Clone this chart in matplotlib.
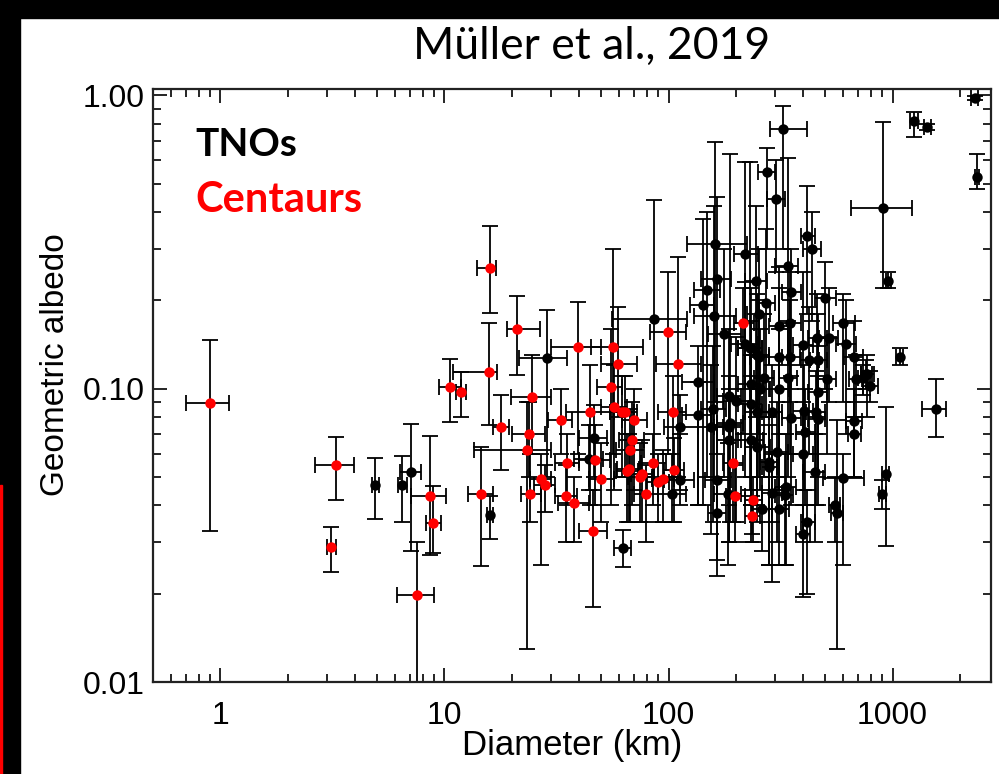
import numpy as np
import matplotlib.pyplot as plt
from matplotlib.patches import Rectangle
from matplotlib.ticker import LogLocator, NullFormatter

# diameter (km): value, lower, upper ; geometric albedo: value, lower, upper
tno = [
    (325, 283, 415, 0.77, 0.30, 0.92),
    (275, 250, 300, 0.547, 0.30, 0.66),
    (301, 275, 330, 0.444, 0.25, 0.60),
    (906, 655, 1220, 0.414, 0.22, 0.81),
    (957, 930, 985, 0.232, 0.22, 0.25),
    (1246, 1200, 1300, 0.815, 0.72, 0.88),
    (1429, 1380, 1480, 0.78, 0.76, 0.80),
    (2323, 2250, 2400, 0.975, 0.96, 0.99),
    (2371, 2330, 2420, 0.526, 0.48, 0.63),
    (417, 390, 450, 0.331, 0.18, 0.49),
    (436, 400, 480, 0.300, 0.17, 0.40),
    (161, 121, 225, 0.312, 0.09, 0.69),
    (220, 195, 250, 0.288, 0.10, 0.59),
    (340, 300, 380, 0.261, 0.12, 0.61),
    (164, 140, 190, 0.237, 0.06, 0.45),
    (245, 220, 275, 0.232, 0.08, 0.42),
    (148, 130, 170, 0.216, 0.05, 0.40),
    (352, 320, 390, 0.213, 0.10, 0.30),
    (500, 450, 560, 0.204, 0.10, 0.27),
    (142, 125, 160, 0.193, 0.04, 0.38),
    (272, 250, 300, 0.196, 0.08, 0.35),
    (254, 225, 285, 0.180, 0.07, 0.30),
    (86, 56, 121, 0.173, 0.05, 0.44),
    (160, 130, 200, 0.177, 0.05, 0.42),
    (177, 150, 210, 0.154, 0.05, 0.30),
    (312, 280, 350, 0.164, 0.07, 0.26),
    (350, 310, 390, 0.168, 0.09, 0.25),
    (601, 540, 680, 0.167, 0.09, 0.21),
    (400, 360, 440, 0.141, 0.07, 0.25),
    (461, 420, 510, 0.149, 0.08, 0.21),
    (519, 470, 570, 0.149, 0.09, 0.22),
    (618, 560, 690, 0.142, 0.07, 0.20),
    (1076, 1040, 1110, 0.128, 0.12, 0.137),
    (312, 280, 345, 0.128, 0.05, 0.22),
    (350, 320, 385, 0.128, 0.06, 0.20),
    (425, 390, 470, 0.125, 0.06, 0.19),
    (467, 430, 510, 0.125, 0.07, 0.18),
    (673, 610, 740, 0.128, 0.08, 0.17),
    (254, 230, 280, 0.128, 0.05, 0.20),
    (219, 190, 250, 0.142, 0.05, 0.23),
    (231, 205, 260, 0.138, 0.045, 0.59),
    (772, 720, 830, 0.112, 0.08, 0.13),
    (136, 115, 160, 0.105, 0.04, 0.14),
    (135, 115, 155, 0.081, 0.04, 0.105),
    (113, 95, 135, 0.0742, 0.045, 0.095),
    (113, 95, 130, 0.0488, 0.04, 0.07),
    (104, 90, 120, 0.0439, 0.035, 0.06),
    (62.4, 57, 68, 0.0287, 0.0246, 0.033),
    (46.3, 40, 53, 0.0679, 0.05, 0.088),
    (44.3, 38, 51, 0.0575, 0.045, 0.075),
    (158.6, 140, 180, 0.0852, 0.035, 0.14),
    (154, 135, 175, 0.0742, 0.032, 0.12),
    (189, 165, 215, 0.0762, 0.035, 0.63),
    (186, 160, 210, 0.0742, 0.03, 0.11),
    (186, 165, 210, 0.067, 0.03, 0.10),
    (233, 205, 265, 0.067, 0.03, 0.11),
    (249, 220, 285, 0.063, 0.035, 0.10),
    (304, 270, 340, 0.061, 0.03, 0.09),
    (282, 255, 310, 0.056, 0.025, 0.08),
    (282, 260, 305, 0.0542, 0.025, 0.075),
    (165, 145, 190, 0.049, 0.023, 0.075),
    (185, 160, 210, 0.0439, 0.025, 0.065),
    (164, 150, 180, 0.0378, 0.026, 0.05),
    (261, 235, 290, 0.0388, 0.028, 0.05),
    (312, 280, 345, 0.0388, 0.025, 0.05),
    (290, 260, 320, 0.044, 0.022, 0.06),
    (330, 300, 360, 0.0434, 0.025, 0.06),
    (333, 300, 370, 0.0462, 0.025, 0.07),
    (449, 400, 500, 0.052, 0.03, 0.07),
    (603, 490, 745, 0.0497, 0.025, 0.06),
    (417, 390, 450, 0.035, 0.02, 0.045),
    (400, 370, 430, 0.0319, 0.0195, 0.04),
    (551, 520, 580, 0.040, 0.03, 0.05),
    (563, 530, 600, 0.0378, 0.013, 0.078),
    (931, 900, 960, 0.0512, 0.029, 0.0868),
    (900, 870, 930, 0.0437, 0.039, 0.049),
    (1556, 1360, 1730, 0.0852, 0.0683, 0.108),
    (673, 620, 730, 0.0773, 0.05, 0.10),
    (673, 630, 720, 0.070, 0.05, 0.09),
    (796, 740, 860, 0.102, 0.09, 0.115),
    (763, 720, 810, 0.112, 0.10, 0.125),
    (735, 700, 780, 0.109, 0.095, 0.12),
    (684, 640, 730, 0.108, 0.08, 0.13),
    (510, 460, 560, 0.108, 0.06, 0.15),
    (463, 420, 510, 0.097, 0.05, 0.14),
    (402, 360, 440, 0.084, 0.045, 0.12),
    (456, 410, 500, 0.083, 0.04, 0.115),
    (463, 420, 500, 0.079, 0.04, 0.11),
    (407, 370, 450, 0.071, 0.04, 0.10),
    (397, 360, 440, 0.060, 0.03, 0.09),
    (352, 320, 390, 0.0794, 0.04, 0.11),
    (290, 260, 320, 0.083, 0.035, 0.12),
    (249, 220, 280, 0.083, 0.04, 0.13),
    (233, 205, 260, 0.0887, 0.04, 0.13),
    (200, 175, 230, 0.091, 0.035, 0.15),
    (186, 165, 210, 0.0946, 0.04, 0.16),
    (233, 205, 265, 0.104, 0.04, 0.17),
    (312, 280, 345, 0.0998, 0.045, 0.16),
    (340, 310, 375, 0.109, 0.05, 0.17),
    (256, 230, 285, 0.100, 0.045, 0.16),
    (267, 240, 295, 0.109, 0.05, 0.18),
    (249, 220, 280, 0.130, 0.05, 0.21),
    (233, 205, 260, 0.138, 0.05, 0.22),
    (28.6, 21.6, 35.4, 0.127, 0.05, 0.186),
    (4.91, 4.75, 5.1, 0.0469, 0.0359, 0.058),
    (6.46, 6.2, 6.8, 0.0469, 0.035, 0.059),
    (7.08, 6.35, 7.86, 0.052, 0.0279, 0.076),
    (16.0, 15.5, 16.5, 0.0371, 0.0308, 0.043),
]

centaurs = [
    (0.896, 0.705, 1.093, 0.089, 0.0327, 0.146),
    (3.27, 2.63, 3.93, 0.0549, 0.0418, 0.0682),
    (3.13, 2.99, 3.27, 0.0289, 0.0238, 0.0338),
    (7.53, 6.13, 8.97, 0.0198, 0.005, 0.0299),
    (8.66, 7.1, 10.2, 0.0429, 0.027, 0.069),
    (8.93, 8.3, 9.6, 0.0349, 0.0275, 0.0465),
    (10.6, 9.5, 11.9, 0.101, 0.077, 0.126),
    (11.9, 11.3, 12.5, 0.0971, 0.080, 0.114),
    (15.8, 10.9, 17.2, 0.114, 0.075, 0.167),
    (16.0, 14.0, 17.0, 0.257, 0.181, 0.357),
    (21.1, 19.0, 26.6, 0.160, 0.111, 0.207),
    (14.6, 12.7, 16.4, 0.0439, 0.0249, 0.063),
    (17.8, 16.5, 19.5, 0.0742, 0.0529, 0.0954),
    (24.5, 19.8, 29.9, 0.0934, 0.06, 0.13),
    (23.9, 20, 28, 0.070, 0.05, 0.09),
    (23.3, 13.5, 29.9, 0.0619, 0.013, 0.09),
    (24.1, 22, 27, 0.0439, 0.035, 0.06),
    (27.0, 24, 30, 0.0492, 0.025, 0.06),
    (28.1, 25, 31, 0.047, 0.038, 0.055),
    (33.1, 29, 37, 0.0782, 0.06, 0.10),
    (35.1, 31, 40, 0.0558, 0.04, 0.07),
    (34.9, 31, 39, 0.0429, 0.03, 0.055),
    (39.3, 30, 50, 0.139, 0.06, 0.198),
    (56.4, 45, 77, 0.139, 0.06, 0.30),
    (59.3, 50, 72, 0.1214, 0.08, 0.19),
    (110.5, 88, 140, 0.121, 0.05, 0.28),
    (99, 83, 120, 0.156, 0.06, 0.25),
    (55.3, 48, 62, 0.101, 0.04, 0.16),
    (44.6, 35, 55, 0.0835, 0.04, 0.12),
    (57.3, 50, 65, 0.0864, 0.045, 0.12),
    (62.3, 55, 70, 0.0835, 0.05, 0.11),
    (64, 57, 72, 0.0835, 0.05, 0.11),
    (70.3, 62, 80, 0.0782, 0.045, 0.10),
    (104.3, 90, 120, 0.083, 0.05, 0.11),
    (68.4, 60, 78, 0.067, 0.04, 0.09),
    (67.3, 58, 78, 0.0619, 0.035, 0.085),
    (47.1, 40, 55, 0.057, 0.04, 0.075),
    (50, 44, 57, 0.0492, 0.035, 0.065),
    (65.2, 58, 73, 0.0525, 0.035, 0.07),
    (66.4, 59, 74, 0.0532, 0.035, 0.07),
    (74.6, 66, 84, 0.050, 0.035, 0.065),
    (76.1, 68, 86, 0.051, 0.035, 0.067),
    (85.4, 75, 97, 0.0558, 0.04, 0.07),
    (90, 80, 100, 0.048, 0.035, 0.06),
    (94.4, 84, 106, 0.0492, 0.035, 0.062),
    (79.2, 70, 90, 0.0439, 0.03, 0.055),
    (105.4, 95, 117, 0.0529, 0.035, 0.068),
    (37.7, 32, 44, 0.0407, 0.03, 0.05),
    (46.2, 40, 53, 0.0328, 0.018, 0.045),
    (194, 175, 215, 0.0558, 0.035, 0.075),
    (198, 180, 220, 0.0429, 0.03, 0.055),
    (238.6, 220, 260, 0.0418, 0.03, 0.05),
    (237, 220, 255, 0.0369, 0.032, 0.043),
    (215, 195, 240, 0.168, 0.07, 0.22),
]

W, H = 999, 774
fig = plt.figure(figsize=(W / 100, H / 100), dpi=100)
fig.patch.set_facecolor('white')

# dark frame at top/left and thin red strip
fig.patches.append(Rectangle((0, 1 - 18 / H), 1, 18 / H, transform=fig.transFigure, color='black', zorder=0))
fig.patches.append(Rectangle((0, 0), 20 / W, 1, transform=fig.transFigure, color='black', zorder=0))
fig.patches.append(Rectangle((0, 0), 2 / W, (774 - 485) / H, transform=fig.transFigure, color='red', zorder=1))

ax = fig.add_axes([153 / W, 1 - 682 / H, (991 - 153) / W, (682 - 89) / H])


def draw(rows):
    a = np.array(rows, dtype=float)
    d, dlo, dhi, p, plo, phi = a.T
    ax.errorbar(d, p, xerr=[d - dlo, dhi - d], yerr=[p - plo, phi - p], fmt='none',
                ecolor='black', elinewidth=1.3, capsize=6, capthick=1.3, zorder=2)
    return d, p


dt, pt = draw(tno)
dc, pc = draw(centaurs)
ax.plot(dt, pt, 'o', color='black', ms=7.5, mec='none', zorder=3)
ax.plot(dc, pc, 'o', color='red', ms=7.5, mec='none', zorder=4)

ax.set_xscale('log')
ax.set_yscale('log')
ax.set_xlim(0.5, 2750)
ax.set_ylim(0.01, 1.05)

ax.set_xticks([1, 10, 100, 1000])
ax.set_xticklabels(['1', '10', '100', '1000'])
ax.set_yticks([0.01, 0.1, 1.0])
ax.set_yticklabels(['0.01', '0.10', '1.00'])
ax.xaxis.set_minor_locator(LogLocator(base=10, subs=np.arange(2, 10)))
ax.yaxis.set_minor_locator(LogLocator(base=10, subs=np.arange(2, 10)))
ax.xaxis.set_minor_formatter(NullFormatter())
ax.yaxis.set_minor_formatter(NullFormatter())

ax.tick_params(which='both', direction='in', top=True, right=True, width=1.2, labelsize=23,
               colors='black')
ax.tick_params(which='major', length=10)
ax.tick_params(which='minor', length=5.5)
ax.tick_params(axis='x', which='major', pad=14)
ax.tick_params(axis='y', which='major', pad=6)
for lab in ax.get_xticklabels() + ax.get_yticklabels():
    lab.set_family('Liberation Sans')
for s in ax.spines.values():
    s.set_linewidth(1.6)
    s.set_color('#222222')

ax.set_xlabel('Diameter (km)', family='Liberation Sans', fontsize=25, labelpad=-2)
ax.set_ylabel('Geometric albedo', family='Liberation Sans', fontsize=24)
ax.yaxis.set_label_coords(-0.098, 0.535)

fig.text(592 / W, 1 - 46 / H, 'Müller et al., 2019', family='Lato', fontsize=32,
         ha='center', va='center', color='black')
fig.text(195 / W, 1 - 145 / H, 'TNOs', family='Lato',
         fontweight='bold', fontsize=28, ha='left', va='center', color='black')
fig.text(195 / W, 1 - 200 / H, 'Centaurs', family='Lato',
         fontweight='bold', fontsize=30, ha='left', va='center', color='red')

fig.savefig('out.png', dpi=100)
